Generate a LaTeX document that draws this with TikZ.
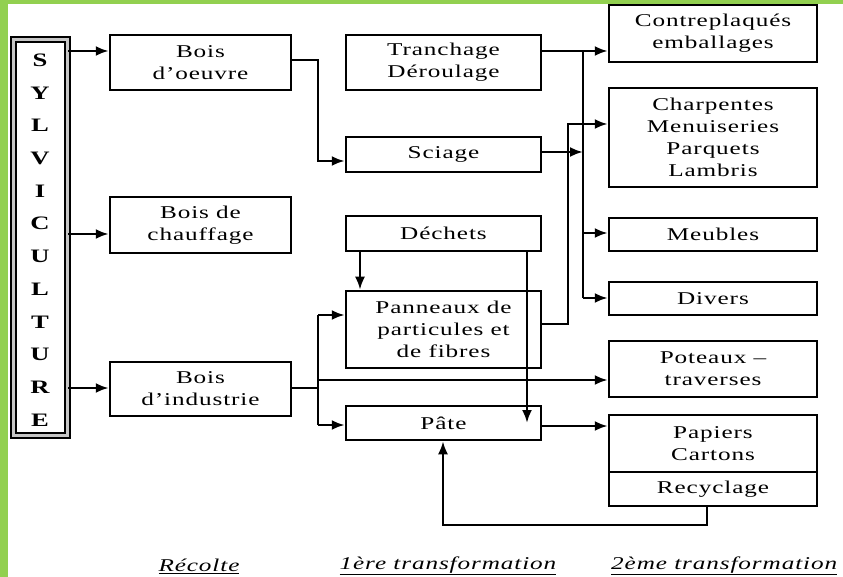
\documentclass[tikz,border=0pt]{standalone}
\usepackage{fontspec}
\setmainfont{Liberation Serif}[FakeStretch=1.4,LetterSpace=5]
\usetikzlibrary{arrows.meta}
\definecolor{leaf}{RGB}{146,208,80}

\begin{document}
\begin{tikzpicture}[x=1pt,y=-1pt,
  box/.style={draw,line width=2.5pt,align=center,inner sep=0pt,
    font=\fontsize{18}{22}\selectfont},
  link/.style={line width=2.5pt},
  arr/.style={link,-{Latex[length=13pt,width=10pt]}},
  stage/.style={font=\fontsize{18}{20}\selectfont\itshape,inner sep=0pt},
]
\useasboundingbox (0,0) rectangle (843,577);
\fill[white] (0,0) rectangle (843,577);
% green frame
\fill[leaf] (0,0) rectangle (8,577);
\fill[leaf] (0,0) rectangle (843,4);

% sylviculture column: frame, then its letters
\node[draw,line width=2pt,double=gray!45,double distance=3pt,
  minimum width=54pt,minimum height=395pt,inner sep=0pt] (sy) at (40,237.5) {};
\node[inner sep=0pt,align=center,
  font=\fontsize{19}{32.7}\selectfont\bfseries] (syt) at (40,240)
  {S\\Y\\L\\V\\I\\C\\U\\L\\T\\U\\R\\E};

% harvest
\node[box,minimum width=181pt,minimum height=55pt] (bo) at (200.5,62.5) {Bois\\d’oeuvre};
\node[box,minimum width=181pt,minimum height=56pt] (bc) at (200.5,225) {Bois de\\chauffage};
\node[box,minimum width=181pt,minimum height=54pt] (bi) at (200.5,389) {Bois\\d’industrie};

% first transformation
\node[box,minimum width=195pt,minimum height=55pt] (tr) at (443.5,62.5) {Tranchage\\Déroulage};
\node[box,minimum width=195pt,minimum height=35pt] (sc) at (443.5,154.5) {Sciage};
\node[box,minimum width=195pt,minimum height=35pt] (de) at (443.5,233.5) {Déchets};
\node[box,minimum width=195pt,minimum height=77pt] (pa) at (443.5,329.5) {Panneaux de\\particules et\\de fibres};
\node[box,minimum width=195pt,minimum height=34pt] (pt) at (443.5,423) {Pâte};

% second transformation
\node[box,minimum width=208pt,minimum height=57pt] (co) at (713,33.5) {Contreplaqués\\emballages};
\node[box,minimum width=208pt,minimum height=99pt] (ch) at (713,137.5) {Charpentes\\Menuiseries\\Parquets\\Lambris};
\node[box,minimum width=208pt,minimum height=33pt] (me) at (713,234.5) {Meubles};
\node[box,minimum width=208pt,minimum height=33pt] (di) at (713,298.5) {Divers};
\node[box,minimum width=208pt,minimum height=56pt] (po) at (713,369) {Poteaux --\\traverses};
\node[box,minimum width=208pt,minimum height=57pt] (pc) at (713,443.5) {Papiers\\Cartons};
\node[box,minimum width=208pt,minimum height=34pt] (re) at (713,489) {Recyclage};

% junction points
\coordinate (busA) at (583,51);
\coordinate (busB) at (583,298);
\coordinate (busM) at (583,233);
\coordinate (busS) at (583,152);
\coordinate (jo1) at (318,60);
\coordinate (jo2) at (318,161);
\coordinate (jp1) at (568,324);
\coordinate (jp2) at (568,124);
\coordinate (ji) at (318,388);
\coordinate (jiTop) at (318,315);
\coordinate (jiMid) at (318,380);
\coordinate (jiBot) at (318,425);
\coordinate (dA) at (360,0);
\coordinate (dB) at (527,0);
\coordinate (dTip) at (527,423);
\coordinate (rA) at (707,525);
\coordinate (rB) at (443,525);

% sylviculture to harvest
\draw[arr] (sy.east |- 0,51) -- (bo.west |- 0,51);
\draw[arr] (sy.east |- 0,234) -- (bc.west |- 0,234);
\draw[arr] (sy.east |- 0,388) -- (bi.west |- 0,388);

% bois d'oeuvre to sciage
\draw[arr] (bo.east |- jo1) -- (jo1) -- (jo2) -- (sc.west |- jo2);

% distribution bus
\draw[arr] (tr.east |- busA) -- (co.west |- busA);
\draw[link] (busA) -- (busB);
\draw[arr] (busM) -- (me.west |- busM);
\draw[arr] (busB) -- (di.west |- busB);
\draw[arr] (sc.east |- busS) -- (busS);
\draw[arr] (pa.east |- jp1) -- (jp1) -- (jp2) -- (ch.west |- jp2);

% waste
\draw[arr] (de.south -| dA) -- (pa.north -| dA);
\draw[arr] (de.south -| dB) -- (dTip);

% bois d'industrie
\draw[link] (bi.east |- ji) -- (ji);
\draw[link] (jiTop) -- (jiBot);
\draw[arr] (jiTop) -- (pa.west |- jiTop);
\draw[arr] (jiMid) -- (po.west |- jiMid);
\draw[arr] (jiBot) -- (pt.west |- jiBot);

% pulp and recycling
\draw[arr] (pt.east |- 0,426) -- (pc.west |- 0,426);
\draw[arr] (re.south -| rA) -- (rA) -- (rB) -- (pt.south -| rB);

% stages
\node[stage] (s1) at (199,566) {\underline{Récolte}};
\node[stage] (s2) at (448,566) {\underline{1ère transformation}};
\node[stage,anchor=west] (s3) at (611,566) {\underline{2ème transformation}};
\end{tikzpicture}
\end{document}
